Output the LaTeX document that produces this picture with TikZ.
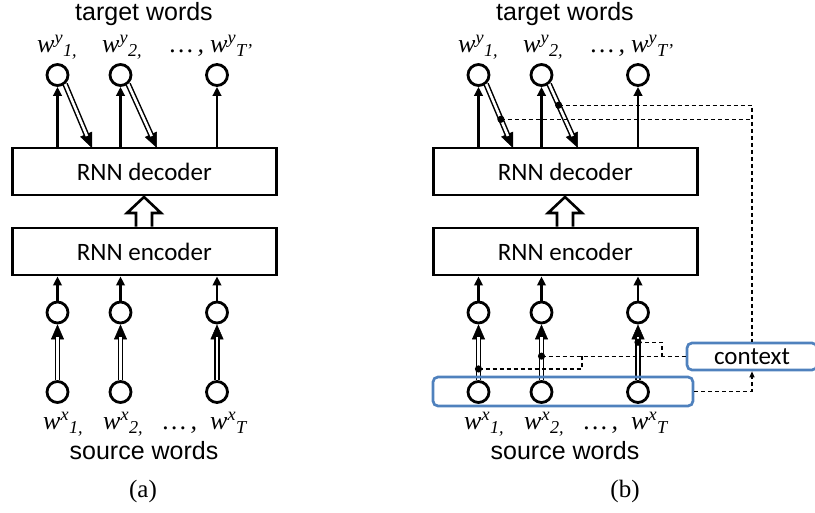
\documentclass[tikz,border=0pt]{standalone}
\usepackage{fontspec}
\setmainfont{Liberation Serif}
\newfontfamily\arialf{Liberation Sans}
\newfontfamily\calib{Carlito}
\usetikzlibrary{arrows.meta,calc}
\definecolor{boxblue}{RGB}{79,129,189}
\tikzset{
  circ/.style={circle,draw,line width=2.8pt,minimum size=21pt,inner sep=0pt},
  rnn/.style={draw,line width=2.9pt,minimum width=264pt,minimum height=47pt,inner sep=0pt,
    font=\calib\fontsize{25}{30}\selectfont},
  upar/.style={line width=2.6pt,-{Triangle[length=9pt,width=8.5pt]}},
  dbltip/.style={line width=0.5pt,-{Triangle[length=15pt,width=13pt]}},
  dblline/.style={line width=1.5pt,double distance=2.6pt,shorten >=13pt},
  words/.style={inner sep=0pt,anchor=base,font=\arialf\fontsize{25}{30}\selectfont},
  wl/.style={inner sep=0pt,anchor=base west,font=\itshape\fontsize{26}{30}\selectfont},
  panelcap/.style={inner sep=0pt,anchor=base,font=\fontsize{25}{30}\selectfont},
  dsh/.style={line width=1.1pt,dash pattern=on 4pt off 3pt},
  bluebox/.style={draw=boxblue,line width=2.7pt,rounded corners=5pt,inner sep=0pt},
  hollow/.style={draw,line width=2.6pt,fill=white},
}
\newcommand\panelbody{%
  \node[words] (tw) at (144,21) {target words};
  \node[circ] (t1) at (57.5,75) {};
  \node[circ] (t2) at (120.5,75) {};
  \node[circ] (t3) at (217,75) {};
  \node[wl] (ly1) at (37,53) {w\textsuperscript{y}\textsubscript{1,}};
  \node[wl] (ly2) at (102,53) {w\textsuperscript{y}\textsubscript{2,}};
  \node[wl] (lyd) at (170,53) {…\,,};
  \node[wl] (lyT) at (210,53) {w\textsuperscript{y}\textsubscript{T’}};
  \node[rnn] (dec) at (144.25,171.5) {RNN decoder};
  \node[rnn] (enc) at (144.25,251.5) {RNN encoder};
  \node[circ] (m1) at (57.5,312.5) {};
  \node[circ] (m2) at (120.5,312.5) {};
  \node[circ] (m3) at (217,312.5) {};
  \node[circ] (s1) at (57.5,392) {};
  \node[circ] (s2) at (120.5,392) {};
  \node[circ] (s3) at (217,392) {};
  \node[wl] (lx1) at (43,430) {w\textsuperscript{x}\textsubscript{1,}};
  \node[wl] (lx2) at (103,430) {w\textsuperscript{x}\textsubscript{2,}};
  \node[wl] (lxd) at (163,430) {…\,,};
  \node[wl] (lxT) at (210,430) {w\textsuperscript{x}\textsubscript{T}};
  \node[words] (sw) at (144,459) {source words};
  \draw[upar] (t1 |- dec.north) -- (t1);
  \draw[upar] (t2 |- dec.north) -- (t2);
  \draw[upar] (t3 |- dec.north) -- (t3);
  \draw[upar] (m1) -- (m1 |- enc.south);
  \draw[upar] (m2) -- (m2 |- enc.south);
  \draw[upar] (m3) -- (m3 |- enc.south);
  \coordinate (a1) at (92,148);
  \coordinate (a2) at (157,148);
  \draw[dbltip] (t1.-50) -- coordinate[pos=0.55] (p1) (a1);
  \draw[dblline] (t1.-50) -- (a1);
  \draw[dbltip] (t2.-50) -- coordinate[pos=0.33] (p2) (a2);
  \draw[dblline] (t2.-50) -- (a2);
  \draw[dbltip] (s1) -- coordinate[pos=0.2] (e1) (m1);
  \draw[dblline] (s1) -- (m1);
  \draw[dbltip] (s2) -- coordinate[pos=0.43] (e2) (m2);
  \draw[dblline] (s2) -- (m2);
  \draw[dbltip] (s3) -- coordinate[pos=0.68] (e3) (m3);
  \draw[dblline] (s3) -- (m3);
  \draw[hollow] (enc.north -| 136,0) -- (136,213) -- (127,213) -- (144,197)
     -- (161,213) -- (152,213) -- (enc.north -| 152,0);
}
\begin{document}
\begin{tikzpicture}[x=1pt,y=-1pt]
  \useasboundingbox (0,0) rectangle (815,513);
  \begin{scope}[name prefix=a-]
    \panelbody
    \node[panelcap] (capa) at (143,497) {(a)};
  \end{scope}
  \begin{scope}[xshift=421pt,name prefix=b-]
    \panelbody
    \node[bluebox,minimum width=260pt,minimum height=29pt] (src) at (142,391.5) {};
    \node[bluebox,minimum width=130pt,minimum height=27pt,
      font=\calib\fontsize{25}{30}\selectfont] (ctx) at (331,356.5) {context};
    \fill (p1) circle (3.6pt);
    \fill (p2) circle (3.6pt);
    \fill (e1) circle (3.6pt);
    \fill (e2) circle (3.6pt);
    \fill (e3) circle (3.6pt);
    \coordinate (x1) at (161,0);
    \coordinate (x3) at (241,0);
    \draw[dsh] (p1) -- (p1 -| ctx.north);
    \draw[dsh] (p2) -| (ctx.north);
    \draw[dsh,-{Triangle[length=6pt,width=5pt]}] (src.east) -| (ctx.south);
    \draw[dsh] (e1) -| (e2 -| x1);
    \draw[dsh] (e3) -| (e2 -| x3);
    \draw[dsh] (e2) -- (e2 -| ctx.west);
    \node[panelcap] (capb) at (204,497) {(b)};
  \end{scope}
\end{tikzpicture}
\end{document}
